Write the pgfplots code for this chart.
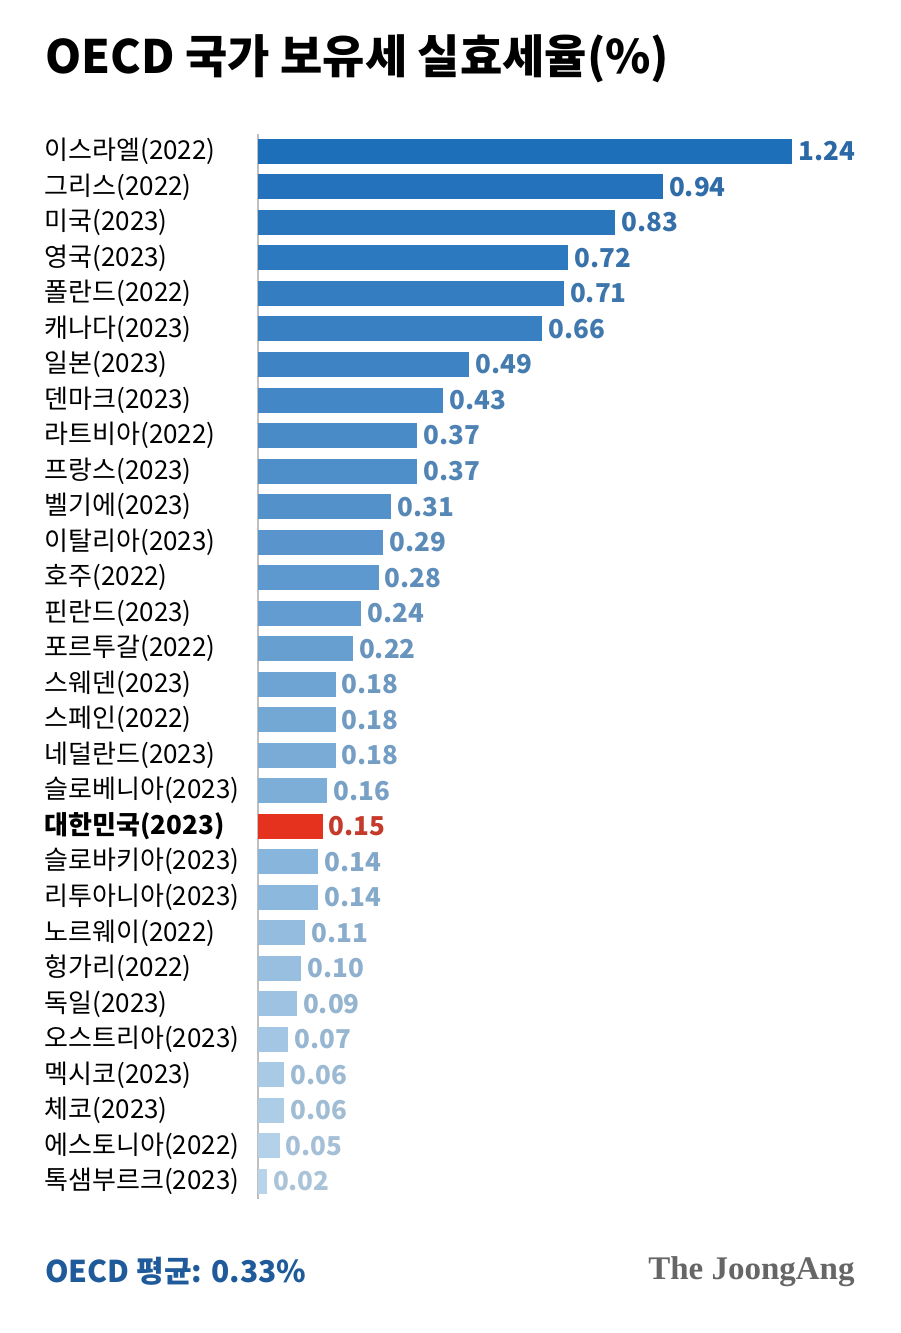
\documentclass[border=0pt]{standalone}
\usepackage{pgfplots}
\usepackage{pgfplotstable}
\pgfplotsset{compat=1.18}
\usepackage{fontspec}
\setmainfont{Noto Sans CJK KR}
\newfontfamily\serifbrand{Liberation Serif}
\definecolor{barA}{HTML}{1E6FBA}
\definecolor{barB}{HTML}{B8D4EA}
\definecolor{labA}{HTML}{2B69A6}
\definecolor{labB}{HTML}{A9C3D8}
\definecolor{korea}{HTML}{E5321F}
\definecolor{korealab}{HTML}{C43A2B}
\definecolor{footblue}{HTML}{1F5A9A}
\definecolor{brandgray}{HTML}{666666}

\pgfplotstableread{
idx val
0 1.24
1 0.94
2 0.83
3 0.72
4 0.71
5 0.66
6 0.49
7 0.43
8 0.37
9 0.37
10 0.31
11 0.29
12 0.28
13 0.24
14 0.22
15 0.18
16 0.18
17 0.18
18 0.16
19 0.15
20 0.14
21 0.14
22 0.11
23 0.10
24 0.09
25 0.07
26 0.06
27 0.06
28 0.05
29 0.02
}\datatable

\begin{document}
\begin{tikzpicture}[x=1pt,y=1pt]
\useasboundingbox (0,0) rectangle (450,666.5);
\fill[white] (0,0) rectangle (450,666.5);
\node[anchor=west, font=\bfseries\fontsize{23}{28}\selectfont, inner sep=0pt] at (22.5,637) {OECD 국가 보유세 실효세율(\%)};
\begin{axis}[
  at={(129pt,66.9pt)}, anchor=south west,
  scale only axis, width=301.4pt, height=532.8pt,
  xmin=0, xmax=1.4, ymin=-0.5, ymax=29.5, y dir=reverse,
  axis x line=none, axis y line*=left,
  y axis line style={draw=gray!50, line width=0.6pt, -},
  ytick={0,...,29},
  yticklabels={이스라엘(2022),그리스(2022),미국(2023),영국(2023),폴란드(2022),캐나다(2023),일본(2023),덴마크(2023),라트비아(2022),프랑스(2023),벨기에(2023),이탈리아(2023),호주(2022),핀란드(2023),포르투갈(2022),스웨덴(2023),스페인(2022),네덜란드(2023),슬로베니아(2023),\textbf{대한민국(2023)},슬로바키아(2023),리투아니아(2023),노르웨이(2022),헝가리(2022),독일(2023),오스트리아(2023),멕시코(2023),체코(2023),에스토니아(2022),톡샘부르크(2023)},
  major tick length=0pt,
  yticklabel style={anchor=east, inner sep=0pt, text width=106.5pt, align=left, font=\fontsize{13}{15}\selectfont},
  xbar, bar width=12.5pt, bar shift=0pt,
  clip=false,
  point meta=x,
  /pgf/number format/assume math mode=true,
  nodes near coords={\pgfmathprintnumber[fixed,fixed zerofill,precision=2,assume math mode=true]{\pgfplotspointmeta}},
  every node near coord/.append style={anchor=west, inner sep=0pt, xshift=3pt, font=\bfseries\fontsize{13}{15}\selectfont},
]
\pgfplotsinvokeforeach{0,...,29}{
  \pgfplotstablegetelem{#1}{val}\of\datatable
  \let\v\pgfplotsretval
  \pgfmathtruncatemacro\pct{round(#1*100/29)}
  \ifnum#1=19
    \def\fc{korea}\def\lc{korealab}
  \else
    \edef\fc{barB!\pct!barA}\edef\lc{labB!\pct!labA}
  \fi
  \edef\tmp{\noexpand\addplot[xbar, bar shift=0pt, draw=none, fill=\fc, every node near coord/.append style={text=\lc}] coordinates {(\v,#1)};}
  \tmp
}
\end{axis}
\node[anchor=west, font=\bfseries\fontsize{15}{18}\selectfont, text=footblue, inner sep=0pt] at (22.5,31) {OECD 평균: 0.33\%};
\node[anchor=east, font=\serifbrand\bfseries\fontsize{16.5}{20}\selectfont, text=brandgray, inner sep=0pt] at (427.5,30.5) {The JoongAng};
\end{tikzpicture}
\end{document}
